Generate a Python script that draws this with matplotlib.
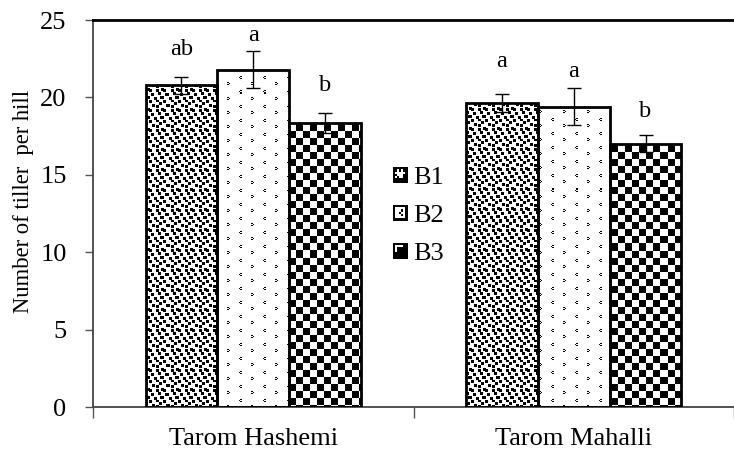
import numpy as np
import matplotlib
matplotlib.use('Agg')
import matplotlib.pyplot as plt
from matplotlib.patches import Patch, Rectangle
from matplotlib.legend_handler import HandlerBase

# data
cultivars = ['Tarom Hashemi', 'Tarom Mahalli']
treatments = ['B1', 'B2', 'B3']
b1_mean = [20.8, 19.65]
b2_mean = [21.8, 19.4]
b3_mean = [18.35, 17.0]
b1_err = [0.55, 0.6]
b2_err = [1.2, 1.2]
b3_err = [0.65, 0.55]
b1_letters = ['ab', 'a']
b2_letters = ['a', 'a']
b3_letters = ['b', 'b']
b1_letter_y = [23.1, 22.3]
b2_letter_y = [24.0, 21.7]
b3_letter_y = [20.8, 19.1]
yticks = [0, 5, 10, 15, 20, 25]

plt.rcParams['font.family'] = ['Liberation Serif', 'DejaVu Serif']

# fill textures (1 = white, 0 = black)
def tile_from(rows):
    return np.array([[0.0 if ch == '#' else 1.0 for ch in r] for r in rows])

confetti = tile_from([
    "###....###....",
    "###....###....",
    "###.......###.",
    "..........###.",
    "...###....###.",
    "...###.###....",
    "...###.###....",
    ".......###....",
    "#...........##",
    "###....###..##",
    "###....###..##",
    "###....###....",
    ".........###..",
    "..###....###..",
    "..###....###..",
    "..###.........",
    "#..........###",
    "#....###...###",
    "#....###...###",
    ".....###......",
])

sparse = tile_from([
    "........................",
    "...##...................",
    "..#.....................",
    "...##...................",
    "........................",
    "........................",
    "........................",
    "..............##........",
    "................#.......",
    "..............##........",
    "........................",
    "........................",
    "........................",
    "........................",
])

ii, jj = np.indices((14, 14))
checker = ((ii // 7 + jj // 7) % 2).astype(float)

fig = plt.figure(figsize=(7.34, 4.5), dpi=100)
ax_w, ax_h = 641, 387
ax = fig.add_axes([93 / 734, 43 / 450, ax_w / 734, ax_h / 450])


def full_texture(tile):
    th, tw = tile.shape
    return np.tile(tile, (ax_h // th + 1, ax_w // tw + 1))[:ax_h, :ax_w]


x = np.arange(len(cultivars))
width = 0.224
series = [
    (b1_mean, b1_err, b1_letters, b1_letter_y, confetti),
    (b2_mean, b2_err, b2_letters, b2_letter_y, sparse),
    (b3_mean, b3_err, b3_letters, b3_letter_y, checker),
]

for k, (mean, err, lets, lety, tile) in enumerate(series):
    pos = x + (k - 1) * width
    bars = ax.bar(pos, mean, width, facecolor='none', edgecolor='black',
                  linewidth=2, zorder=3)
    tex = full_texture(tile)
    for b in bars:
        im = ax.imshow(tex, cmap='gray', vmin=0, vmax=1, extent=(0, 1, 0, 1),
                       transform=ax.transAxes, interpolation='nearest',
                       aspect='auto', zorder=2)
        im.set_clip_path(b)
    ax.errorbar(pos, mean, yerr=err, fmt='none', ecolor='black',
                elinewidth=1, capsize=5, capthick=1, zorder=5)
    for p, t, yy in zip(pos, lets, lety):
        ax.text(p, yy, t, ha='center', va='center', fontsize=17.5)

ax.set_xlim(-0.5, -0.5 + ax_w / 326)
ax.set_ylim(0, 25)
ax.set_yticks(yticks)
ax.tick_params(axis='y', length=6, width=1, labelsize=19, pad=13, color='#555555')
ax.set_xticks(x)
ax.set_xticklabels(cultivars)
ax.set_xticks([-0.5, 0.5, 1.5], minor=True)
ax.tick_params(axis='x', which='major', length=0, labelsize=19, pad=15)
ax.tick_params(axis='x', which='minor', length=8, width=1, color='#555555')
ax.set_ylabel('Number of tiller  per hill', fontsize=16.3)
ax.yaxis.set_label_coords(-0.092, 0.53)

ax.spines['right'].set_visible(False)
ax.spines['top'].set_linewidth(2)
ax.spines['top'].set_color('black')
for s in ['left', 'bottom']:
    ax.spines[s].set_linewidth(1.3)
    ax.spines[s].set_color('#444444')


# legend swatches, small pictures of the fills
class SwatchHandler(HandlerBase):
    def __init__(self, cells):
        super().__init__()
        self.grid = tile_from(cells)

    def create_artists(self, legend, orig_handle, xdescent, ydescent,
                       width, height, fontsize, trans):
        n, m = self.grid.shape
        cw, ch = width / m, height / n
        arts = [Rectangle((-xdescent, -ydescent), width, height,
                          facecolor='white', edgecolor='none', transform=trans)]
        for r in range(n):
            for c in range(m):
                if self.grid[r, c] == 0:
                    arts.append(Rectangle((-xdescent + c * cw, -ydescent + (n - 1 - r) * ch),
                                          cw * 1.02, ch * 1.02, facecolor='black',
                                          edgecolor='none', antialiased=False,
                                          transform=trans))
        return arts


sw1 = ["#######", "##.#.##", "#.....#", "##...##", "#.#..##", "#######", "#######"]
sw2 = ["#######", "#.....#", "#...#.#", "#..#..#", "#...#.#", "#.....#", "#######"]
sw3 = ["#######", "#....##", "#.#####", "#.#####", "#######", "#######", "#######"]
handles = [Patch(label=t) for t in treatments]
hmap = {h: SwatchHandler(s) for h, s in zip(handles, [sw1, sw2, sw3])}
ax.legend(handles=handles, handler_map=hmap, loc='upper left',
          bbox_to_anchor=(0.468, 0.62), frameon=False, fontsize=19,
          handlelength=0.55, handleheight=0.55, handletextpad=0.2,
          labelspacing=0.59, borderpad=0, borderaxespad=0)

fig.savefig('out.png', dpi=100)
